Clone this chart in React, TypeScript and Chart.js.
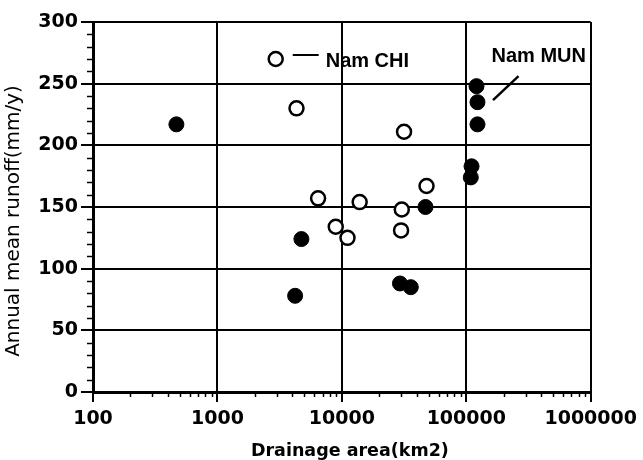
import React, { useEffect, useRef } from "react";
import { Chart, registerables } from "chart.js";

Chart.register(...registerables);

// Nam CHI basin stations (open circles)
const chiArea = [2940, 4320, 31600, 47900, 6440, 13900, 30300, 8930, 11100, 29900];
const chiRunoff = [270, 230, 211, 167, 157, 154, 148, 134, 125, 131];

// Nam MUN basin stations (filled circles)
const munArea = [468, 4730, 4210, 29300, 35800, 47000, 120800, 123000, 123000, 110200, 108700];
const munRunoff = [217, 124, 78, 88, 85, 150, 248, 235, 217, 183, 174];

const xTicks = [100, 1000, 10000, 100000, 1000000];
const yTicks = [0, 50, 100, 150, 200, 250, 300];

const xTitle = "Drainage area(km2)";
const yTitle = "Annual mean runoff(mm/y)";

const toPoints = (xs: number[], ys: number[]) => xs.map((v, i) => ({ x: v, y: ys[i] }));

// small tick marks between the labelled ticks, axis titles and basin callouts
const decorations = {
  id: "decorations",
  afterDraw(chart: any) {
    const { ctx, chartArea, scales } = chart;
    const x = scales.x;
    const y = scales.y;
    ctx.save();
    ctx.strokeStyle = "#000";
    ctx.lineWidth = 1.5;
    // minor ticks on the log axis
    for (let d = 100; d < 1000000; d *= 10) {
      for (let m = 2; m <= 9; m++) {
        const px = Math.round(x.getPixelForValue(d * m)) + 0.5;
        ctx.beginPath();
        ctx.moveTo(px, chartArea.bottom);
        ctx.lineTo(px, chartArea.bottom + 5);
        ctx.stroke();
      }
    }
    // minor ticks on the runoff axis
    for (let v = 10; v < 300; v += 10) {
      if (v % 50 === 0) continue;
      const py = Math.round(y.getPixelForValue(v)) + 0.5;
      ctx.beginPath();
      ctx.moveTo(chartArea.left - 6, py);
      ctx.lineTo(chartArea.left, py);
      ctx.stroke();
    }

    ctx.fillStyle = "#000";
    // x axis title
    ctx.font = "bold 17.5px 'DejaVu Sans'";
    ctx.textAlign = "center";
    ctx.textBaseline = "alphabetic";
    ctx.fillText(xTitle, (chartArea.left + chartArea.right) / 2 + 8, 456);
    // y axis title
    ctx.save();
    ctx.font = "20px 'DejaVu Sans'";
    ctx.translate(19, (chartArea.top + chartArea.bottom) / 2 + 14);
    ctx.rotate(-Math.PI / 2);
    ctx.fillText(yTitle, 0, 0);
    ctx.restore();

    // Nam CHI callout, anchored on its highest station
    ctx.font = "bold 20px 'Liberation Sans'";
    ctx.textAlign = "left";
    const cx = x.getPixelForValue(chiArea[0]);
    const cy = y.getPixelForValue(chiRunoff[0]);
    ctx.lineWidth = 2;
    ctx.beginPath();
    ctx.moveTo(cx + 17, cy - 4);
    ctx.lineTo(cx + 43, cy - 4);
    ctx.stroke();
    ctx.fillText("Nam CHI", cx + 50, cy + 7.5);

    // Nam MUN callout, anchored on its highest station
    const mx = x.getPixelForValue(munArea[6]);
    const my = y.getPixelForValue(munRunoff[6]);
    ctx.lineWidth = 2.5;
    ctx.beginPath();
    ctx.moveTo(mx + 16.5, my + 14);
    ctx.lineTo(mx + 42, my - 10);
    ctx.stroke();
    ctx.fillText("Nam MUN", mx + 15, my - 24);
    ctx.restore();
  },
};

export default function App() {
  const canvasRef = useRef<HTMLCanvasElement | null>(null);

  useEffect(() => {
    if (!canvasRef.current) return;
    const chart = new Chart(canvasRef.current, {
      type: "scatter",
      data: {
        datasets: [
          {
            label: "Nam MUN",
            data: toPoints(munArea, munRunoff),
            pointRadius: 7.5,
            pointBackgroundColor: "#000",
            pointBorderColor: "#000",
            pointBorderWidth: 1,
          },
          {
            label: "Nam CHI",
            data: toPoints(chiArea, chiRunoff),
            pointRadius: 7,
            pointBackgroundColor: "#fff",
            pointBorderColor: "#000",
            pointBorderWidth: 2.5,
          },
        ],
      },
      options: {
        responsive: false,
        animation: false,
        events: [],
        layout: { padding: { top: 22, right: 52, left: 0, bottom: 0 } },
        plugins: {
          legend: { display: false },
          tooltip: { enabled: false },
          title: { display: false },
        },
        scales: {
          x: {
            type: "logarithmic",
            min: 100,
            max: 1000000,
            afterBuildTicks: (scale: any) => {
              scale.ticks = xTicks.map((v) => ({ value: v }));
            },
            afterFit: (scale: any) => {
              scale.height = 68;
            },
            border: { color: "#000", width: 3 },
            grid: { color: "#000", lineWidth: 2, tickLength: 10, tickColor: "#000", tickWidth: 2 },
            ticks: {
              color: "#000",
              font: { family: "'DejaVu Sans'", size: 19, weight: "bold" },
              padding: 6,
              maxRotation: 0,
              autoSkip: false,
              callback: (v: any) => String(v),
            },
          },
          y: {
            min: 0,
            max: 300,
            afterBuildTicks: (scale: any) => {
              scale.ticks = yTicks.map((v) => ({ value: v }));
            },
            afterFit: (scale: any) => {
              scale.width = 93;
            },
            border: { color: "#000", width: 3 },
            grid: { color: "#000", lineWidth: 2, tickLength: 12, tickColor: "#000", tickWidth: 2 },
            ticks: {
              color: "#000",
              font: { family: "'DejaVu Sans'", size: 19, weight: "bold" },
              padding: 3,
              callback: (v: any) => String(v),
            },
          },
        },
      },
      plugins: [decorations],
    });
    return () => chart.destroy();
  }, []);

  return (
    <div style={{ position: "absolute", left: 0, top: 0, width: 643, height: 460, background: "#fff" }}>
      <canvas ref={canvasRef} width={643} height={460} />
    </div>
  );
}
